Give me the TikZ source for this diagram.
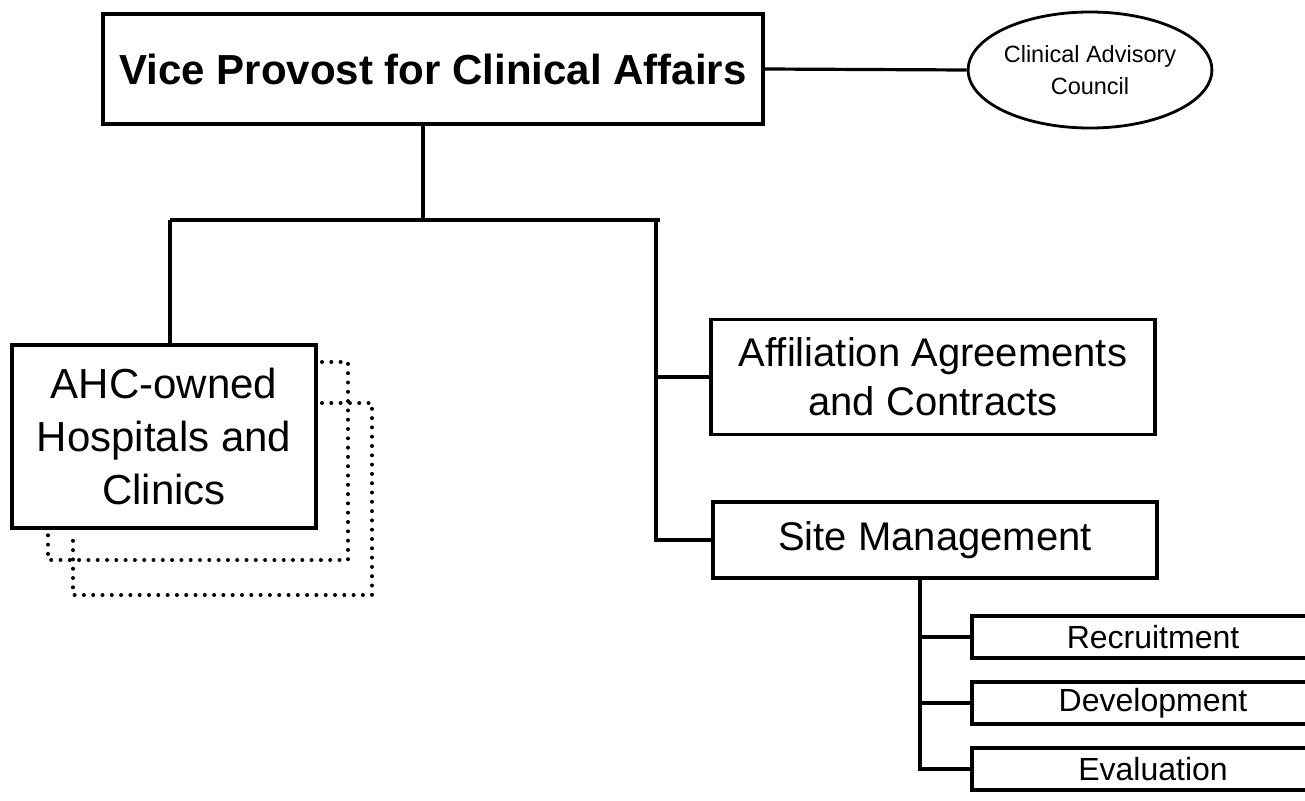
\documentclass[tikz,border=0pt]{standalone}
\usepackage{fontspec}
\setmainfont{Liberation Sans}
\usetikzlibrary{shapes.geometric}
\begin{document}
\begin{tikzpicture}[x=1pt,y=-1pt,
  every node/.style={inner sep=0pt},
  unit/.style={draw,rectangle,line width=3.2pt,align=center},
  subunit/.style={unit,minimum width=362pt,minimum height=42pt,font=\fontsize{32}{36}\selectfont},
  link/.style={line width=3.2pt},
  stacked/.style={line width=4pt,line cap=round,dash pattern=on 0pt off 9.3pt},
]
\useasboundingbox (0,0) rectangle (1305,800);
\clip (0,0) rectangle (1305,800);

% head of the unit and its advisory body
\node[unit,minimum width=660pt,minimum height=110pt,font=\fontsize{42}{48}\selectfont\bfseries] (vp) at (433,69) {Vice Provost for Clinical Affairs};
\node[draw,ellipse,line width=2.8pt,minimum width=236pt,minimum height=116pt,align=center,font=\fontsize{23.5}{32}\selectfont] (cac) at (1090,70) {Clinical Advisory\\Council};
\draw[link] (vp.east) -- (cac.west);

% owned hospitals, with the stacked outlines behind
\node[unit,minimum width=304pt,minimum height=183pt,font=\fontsize{42}{53}\selectfont] (ahc) at (164,436.5) {AHC-owned\\Hospitals and\\Clinics};
\draw[stacked] (322,362) -- (348,362) -- (348,560) -- (48,560) -- (48,532);
\draw[stacked] (322,403) -- (372,403) -- (372,595) -- (73,595) -- (73,532);

% affiliated sites
\node[unit,minimum width=444pt,minimum height=115pt,font=\fontsize{40}{49}\selectfont] (aff) at (933,377) {Affiliation Agreements\\and Contracts};
\node[unit,minimum width=444pt,minimum height=76pt,font=\fontsize{40}{48}\selectfont] (site) at (935,540) {Site Management};

\node[subunit] (rec) at (1153,637) {Recruitment};
\node[subunit] (dev) at (1153,703) {Development};
\node[subunit] (eva) at (1153,769) {Evaluation};

% reporting lines
\coordinate (drop) at (423,220);
\coordinate (tl) at (170,220);
\coordinate (tr) at (656,220);
\coordinate (tend) at (660,220);
\coordinate (sx) at (920,0);

\draw[link] (vp.south -| drop) -- (drop);
\draw[link] (tl) -- (tend);
\draw[link] (tl) -- (tl |- ahc.north);
\draw[link] (tr) -- (tr |- site.west) -- (site.west);
\draw[link] (tr |- aff.west) -- (aff.west);

\draw[link] (site.south -| sx) -- (sx |- eva.west) -- (eva.west);
\draw[link] (sx |- rec.west) -- (rec.west);
\draw[link] (sx |- dev.west) -- (dev.west);
\end{tikzpicture}
\end{document}
